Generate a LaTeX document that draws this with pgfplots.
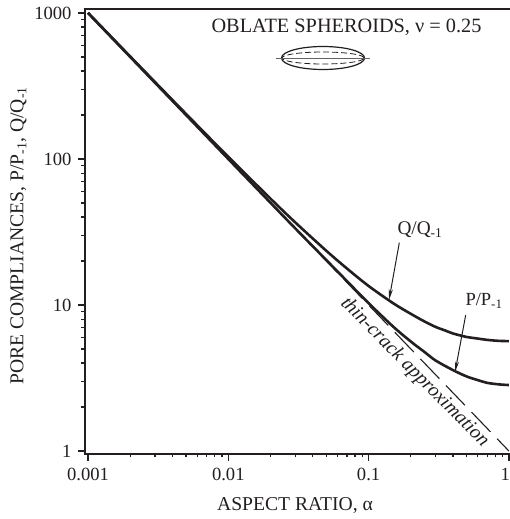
\documentclass[border=0pt]{standalone}
\usepackage{pgfplots}
\pgfplotsset{compat=1.18}
\usepackage{fontspec}
\setmainfont{Liberation Serif}
\usetikzlibrary{arrows.meta}
\definecolor{ink}{HTML}{231F20}
\begin{document}
\begin{tikzpicture}[x=1pt,y=-1pt,color=ink]
\useasboundingbox (0,0) rectangle (509,519);
\begin{axis}[
  at={(85pt,-454pt)},anchor=south west,
  scale only axis,width=426pt,height=445pt,
  xmode=log,ymode=log,
  xmin=0.000952,xmax=1.035,ymin=0.954,ymax=1065,
  xtick={0.001,0.01,0.1,1},
  xticklabels={0.001,0.01,0.1,\makebox[0pt][r]{1\hspace{-1pt}}},
  ytick={1,10,100,1000},
  yticklabels={1,10,100,1000},
  xtick pos=bottom,ytick pos=left,tick align=outside,
  major tick length=7pt,minor tick length=3.5pt,
  every tick/.style={ink,line width=1.3pt},
  axis line style={ink,line width=1.6pt},
  tick label style={font=\fontsize{18.6}{20}\selectfont,text=ink},
  xticklabel style={yshift=-4pt},
  yticklabel style={xshift=-3pt},
  xlabel={ASPECT RATIO, α},
  ylabel={PORE COMPLIANCES, P/P\textsubscript{-1}, Q/Q\textsubscript{-1}},
  label style={font=\fontsize{19.6}{21}\selectfont,text=ink},
  xlabel style={at={(axis description cs:0.493,0)},anchor=north,yshift=-40pt},
  ylabel style={at={(axis description cs:0,0.49)},anchor=south,yshift=55pt},
  clip=false,
]
\addplot[ink,line width=1.1pt,dash pattern=on 27.4pt off 9.5pt] coordinates {(0.001,1000) (1,1)};
\addplot[ink,line width=2.6pt,smooth] table {
0.001 1003.5
0.002 503.5
0.005 203.5
0.01 103.5
0.02 53.5
0.03 36.8
0.05 23.5
0.07 17.8
0.1 13.5
0.15 10.27
0.2 8.7
0.25 7.72
0.3 7.08
0.35 6.70
0.4 6.38
0.45 6.19
0.5 6.04
0.6 5.89
0.7 5.77
0.85 5.68
1 5.66
};
\addplot[ink,line width=2.6pt,smooth] table {
0.001 1000
0.002 500
0.005 200
0.01 100
0.02 50.1
0.03 33.5
0.05 20.3
0.07 14.6
0.1 10.3
0.15 7.1
0.2 5.62
0.25 4.77
0.3 4.17
0.4 3.58
0.5 3.24
0.6 3.06
0.7 2.93
0.85 2.86
1 2.83
};
\end{axis}
\node[font=\fontsize{20.3}{22}\selectfont,text=ink,anchor=center] at (346.5,27) {OBLATE SPHEROIDS, ν = 0.25};
\draw[ink,line width=1.2pt] (323,58) ellipse [x radius=41.5pt,y radius=11.5pt];
\draw[ink,line width=0.8pt,dash pattern=on 6pt off 3pt] (323,58) ellipse [x radius=41pt,y radius=6pt];
\draw[ink!70,line width=0.5pt] (276,58) -- (370,58);
\node[font=\fontsize{19.3}{20}\selectfont,text=ink] at (420,230) {Q/Q\textsubscript{-1}};
\node[font=\fontsize{18.5}{20}\selectfont,text=ink] at (484,301) {P/P\textsubscript{-1}};
\draw[ink,line width=1pt,-{Stealth[length=11pt,width=4pt]}] (399.3,242.7) -- (389,300);
\draw[ink,line width=1pt,-{Stealth[length=11pt,width=4pt]}] (465.7,315) -- (455,372.3);
\node[font=\fontsize{19.8}{20}\selectfont\itshape,text=ink,rotate=-45.3] at (414.5,372.5) {thin-crack approximation};
\end{tikzpicture}
\end{document}
